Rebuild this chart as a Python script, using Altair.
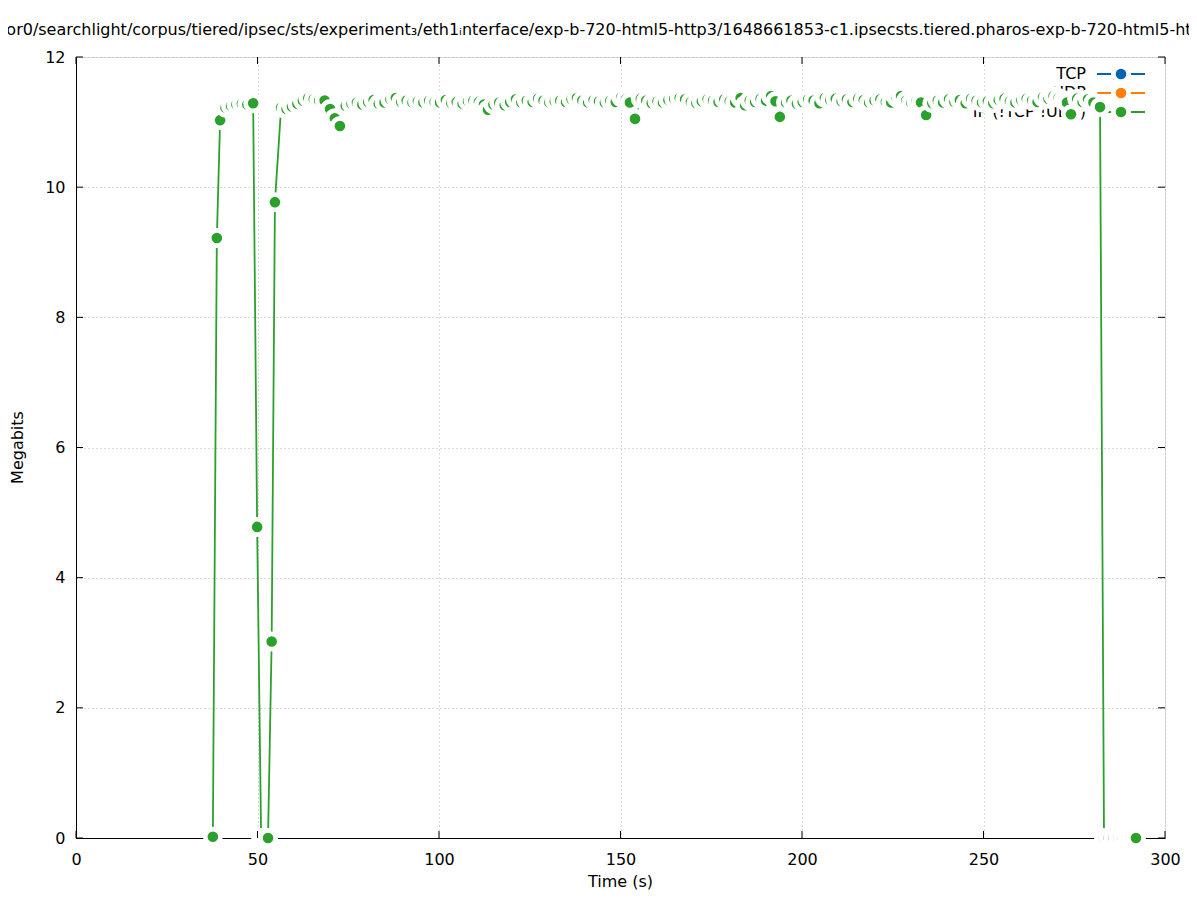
import altair as alt
import pandas as pd

# ---- data ----
times = [
    37.7, 38.8, 39.7, 41.2, 42.7, 44.2, 45.7, 47.2, 48.8,
    49.9, 51.0, 52.0, 52.9, 53.9, 54.8,
    56.5, 58.0, 59.5, 61.0, 62.5, 64.0, 65.5, 67.0, 68.5, 70.0, 71.3, 72.7,
    74.3, 75.9, 77.4, 78.9, 80.5, 82.0, 83.4, 85.0, 86.6, 88.1, 89.6, 91.1, 92.7, 94.2,
    95.7, 97.3, 98.8, 100.3, 101.9, 103.4, 104.9, 106.5, 108.0, 109.5, 111.0, 112.4,
    113.5, 115.0, 116.6, 118.1, 119.6, 121.2, 122.7, 124.2, 125.8, 127.3, 128.8, 130.4,
    131.9, 133.4, 135.0, 136.5, 138.0, 139.5, 141.1, 142.6, 144.1, 145.7, 147.2, 148.7,
    150.2, 151.5, 152.6, 154.0,
    155.6, 157.1, 158.6, 160.2, 161.7, 163.2, 164.8, 166.3, 167.8, 169.4, 170.9, 172.4,
    174.0, 175.5, 177.0, 178.6, 180.1, 181.6, 183.1, 184.3, 185.6, 187.1, 188.6, 190.1,
    191.5, 192.7, 193.9,
    195.6, 197.1, 198.6, 200.2, 201.7, 203.2, 204.8, 206.3, 207.8, 209.3, 210.9, 212.4,
    213.9, 215.5, 217.0, 218.5, 220.0, 221.6, 223.1, 224.6, 226.0, 227.3, 228.7, 230.1,
    231.5, 232.8, 234.2,
    235.9, 237.4, 238.9, 240.5, 242.0, 243.5, 245.1, 246.6, 248.1, 249.6, 251.2, 252.7,
    254.2, 255.8, 257.3, 258.8, 260.4, 261.9, 263.4, 264.9, 266.4, 267.9, 269.3, 270.7,
    272.0, 273.0, 274.1,
    275.8, 277.3, 278.8, 280.3, 282.1,
    283.2, 284.5, 285.8, 287.1, 288.4, 289.6, 290.8, 292.0,
]
megabits = [
    0.02, 9.22, 11.03, 11.22, 11.25, 11.27, 11.28, 11.27, 11.29,
    4.78, 0.0, 0.0, 0.0, 3.02, 9.77,
    11.22, 11.20, 11.24, 11.28, 11.33, 11.37, 11.35, 11.33, 11.33, 11.20, 11.06, 10.94,
    11.25, 11.28, 11.30, 11.27, 11.31, 11.34, 11.28, 11.30, 11.35, 11.37, 11.31, 11.33, 11.30, 11.32,
    11.30, 11.33, 11.31, 11.30, 11.34, 11.29, 11.31, 11.28, 11.32, 11.33, 11.31, 11.27,
    11.19, 11.27, 11.30, 11.26, 11.31, 11.35, 11.30, 11.33, 11.31, 11.36, 11.33, 11.30,
    11.32, 11.33, 11.31, 11.35, 11.37, 11.33, 11.30, 11.34, 11.32, 11.30, 11.33, 11.31,
    11.38, 11.35, 11.30, 11.05,
    11.36, 11.33, 11.29, 11.32, 11.30, 11.34, 11.36, 11.37, 11.35, 11.31, 11.29, 11.32,
    11.35, 11.33, 11.31, 11.35, 11.32, 11.30, 11.37, 11.26, 11.33, 11.31, 11.36, 11.33,
    11.40, 11.32, 11.08,
    11.30, 11.33, 11.28, 11.31, 11.35, 11.33, 11.29, 11.37, 11.34, 11.36, 11.32, 11.35,
    11.31, 11.36, 11.34, 11.30, 11.33, 11.35, 11.31, 11.30, 11.38, 11.40, 11.33, 11.30,
    11.32, 11.30, 11.11,
    11.29, 11.33, 11.30, 11.35, 11.31, 11.34, 11.29, 11.36, 11.33, 11.30, 11.32, 11.29,
    11.34, 11.36, 11.32, 11.30, 11.34, 11.36, 11.33, 11.31, 11.38, 11.36, 11.40, 11.37,
    11.34, 11.30, 11.12,
    11.36, 11.31, 11.35, 11.30, 11.23,
    0.0, 0.0, 0.0, 0.0, 0.0, 0.0, 0.0, 0.0,
]
x_ticks = [0, 50, 100, 150, 200, 250, 300]
y_ticks = [0, 2, 4, 6, 8, 10, 12]
legend_labels = ["TCP", "UDP", "IP (!TCP !UDP)"]
legend_colors = ["#0064b4", "#ff7f0e", "#2ca02c"]
title_text = ("/moni" "tor0/searchlight/corpus/tiered/ipsec/sts/experiment\u2083/eth1\u1d62nterface/"
              "exp-b-720-html5-http3/1648661853-c1.ipsecsts.tiered.pharos-exp-b-720-html5-htt" "p3.pc")

FONT = "DejaVu Sans"
GREEN = "#2ca02c"
W, H = 1089, 781
SYM = 234      # circle diameter^2 (Vega circle radius = sqrt(size)/2)
RING = 4.7

df = pd.DataFrame({"time": times, "mbits": megabits})
xt = pd.DataFrame({"time": x_ticks})
yt = pd.DataFrame({"mbits": y_ticks})
one = pd.DataFrame({"k": [0]})

xs = alt.Scale(domain=[0, 300], nice=False, zero=False)
ys = alt.Scale(domain=[0, 12], nice=False, zero=False)
xaxis = alt.Axis(values=x_ticks, grid=True, gridDash=[1, 3], gridColor="#b4b4b4", gridWidth=1,
                 ticks=False, tickSize=0, domain=True, domainColor="black", domainWidth=1,
                 labelFont=FONT, labelFontSize=16, labelColor="black", labelPadding=13,
                 labelFlush=False, labelOverlap=False, title=None)
yaxis = alt.Axis(values=y_ticks, grid=True, gridDash=[1, 3], gridColor="#b4b4b4", gridWidth=1,
                 ticks=False, tickSize=0, domain=True, domainColor="black", domainWidth=1,
                 labelFont=FONT, labelFontSize=16, labelColor="black", labelPadding=11,
                 labelFlush=False, labelOverlap=False, title=None)

X = alt.X("time:Q", scale=xs, axis=xaxis)
Y = alt.Y("mbits:Q", scale=ys, axis=yaxis)

layers = []

# legend (drawn underneath the data, as in the reference)
for i, (lab, col) in enumerate(zip(legend_labels, legend_colors)):
    yy = 17 + 19 * i
    layers.append(alt.Chart(one).mark_text(align="right", baseline="middle", font=FONT,
                                           fontSize=16, color="black").encode(
        x=alt.value(1010), y=alt.value(yy), text=alt.value(lab)))
    layers.append(alt.Chart(one).mark_rule(color=col, strokeWidth=1.8).encode(
        x=alt.value(1021), x2=alt.value(1069), y=alt.value(yy)))
    layers.append(alt.Chart(one).mark_point(shape="circle", filled=True, fill=col, stroke="white",
                                            strokeWidth=RING, size=SYM, opacity=1).encode(
        x=alt.value(1045), y=alt.value(yy)))

# data
layers.append(alt.Chart(df).mark_line(color=GREEN, strokeWidth=1.8).encode(x=X, y=Y, order="time:Q"))
layers.append(alt.Chart(df).mark_point(shape="circle", filled=True, fill=GREEN, stroke="white",
                                       strokeWidth=RING, size=SYM, opacity=1).encode(x=X, y=Y))

# inward ticks on all four sides
layers.append(alt.Chart(xt).mark_rule(color="black", strokeWidth=1).encode(
    x=X, y=alt.value(H), y2=alt.value(H - 7)))
layers.append(alt.Chart(xt).mark_rule(color="black", strokeWidth=1).encode(
    x=X, y=alt.value(0), y2=alt.value(7)))
layers.append(alt.Chart(yt).mark_rule(color="black", strokeWidth=1).encode(
    y=Y, x=alt.value(0), x2=alt.value(7)))
layers.append(alt.Chart(yt).mark_rule(color="black", strokeWidth=1).encode(
    y=Y, x=alt.value(W), x2=alt.value(W - 7)))

# titles
layers.append(alt.Chart(one).mark_text(align="center", baseline="middle", font=FONT,
                                       fontSize=16, color="black").encode(
    x=alt.value(522.5), y=alt.value(-27), text=alt.value(title_text)))
layers.append(alt.Chart(one).mark_text(align="center", baseline="middle", font=FONT,
                                       fontSize=16, color="black").encode(
    x=alt.value(W / 2), y=alt.value(825), text=alt.value("Time (s)")))
layers.append(alt.Chart(one).mark_text(align="center", baseline="middle", font=FONT,
                                       fontSize=16, color="black", angle=270).encode(
    x=alt.value(-58), y=alt.value(H / 2), text=alt.value("Megabits")))

chart = alt.layer(*layers).properties(
    width=W, height=H,
    padding={"left": 68, "top": 49, "right": 24, "bottom": 54},
    autosize=alt.AutoSizeParams(type="none"),
).configure_view(stroke=None).configure(background="white")

chart.save("out.html", embed_options={"renderer": "svg", "actions": False})
